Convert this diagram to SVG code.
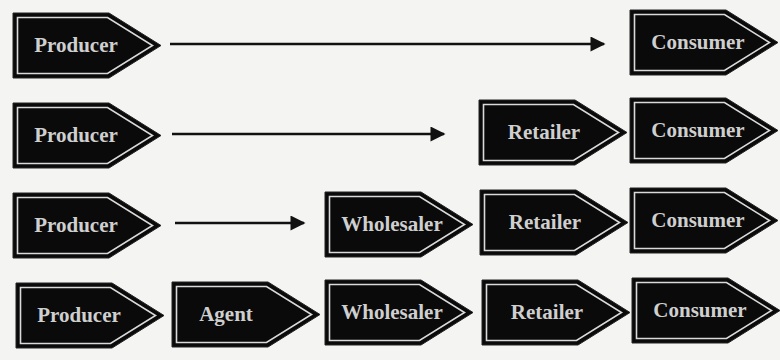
<svg xmlns="http://www.w3.org/2000/svg" width="780" height="360" viewBox="0 0 780 360">
<defs>
<style>
.lbl{font-family:"Liberation Serif","Times New Roman",serif;font-size:21px;font-weight:bold;fill:#cfcfcf;text-anchor:middle}
.con{stroke:#111;stroke-width:2.5;fill:none}
</style>
<g id="tag">
<polygon points="0,0 96,0 148,32.5 96,65 0,65" fill="#0a0a0a" stroke="#222" stroke-width="1"/>
<polygon points="4.5,4.5 94.5,4.5 139.5,32.5 94.5,60.5 4.5,60.5" fill="none" stroke="#dadada" stroke-width="1.6"/>
</g>
<marker id="ah" viewBox="0 0 10 10" refX="9" refY="5" markerWidth="8" markerHeight="6" markerUnits="strokeWidth" orient="auto">
<path d="M0,0 L10,5 L0,10 z" fill="#111"/>
</marker>
</defs>
<rect width="780" height="360" fill="#f4f4f2"/>
<g id="connectors">
<line class="con" x1="170" y1="44" x2="604" y2="44" marker-end="url(#ah)"/>
<line class="con" x1="172" y1="134" x2="444" y2="134" marker-end="url(#ah)"/>
<line class="con" x1="175" y1="223" x2="304" y2="223" marker-end="url(#ah)"/>
</g>
<g id="r1-producer"><use href="#tag" x="13" y="13"/><text class="lbl" x="76" y="52">Producer</text></g>
<g id="r1-consumer"><use href="#tag" x="630" y="10"/><text class="lbl" x="698" y="49">Consumer</text></g>
<g id="r2-producer"><use href="#tag" x="13" y="103"/><text class="lbl" x="76" y="142">Producer</text></g>
<g id="r2-retailer"><use href="#tag" x="479" y="100"/><text class="lbl" x="544" y="139">Retailer</text></g>
<g id="r2-consumer"><use href="#tag" x="630" y="98"/><text class="lbl" x="698" y="137">Consumer</text></g>
<g id="r3-producer"><use href="#tag" x="13" y="193"/><text class="lbl" x="76" y="232">Producer</text></g>
<g id="r3-wholesaler"><use href="#tag" x="325" y="192"/><text class="lbl" x="392" y="231">Wholesaler</text></g>
<g id="r3-retailer"><use href="#tag" x="480" y="190"/><text class="lbl" x="545" y="229">Retailer</text></g>
<g id="r3-consumer"><use href="#tag" x="630" y="188"/><text class="lbl" x="698" y="227">Consumer</text></g>
<g id="r4-producer"><use href="#tag" x="16" y="283"/><text class="lbl" x="79" y="322">Producer</text></g>
<g id="r4-agent"><use href="#tag" x="172" y="282"/><text class="lbl" x="226" y="321">Agent</text></g>
<g id="r4-wholesaler"><use href="#tag" x="325" y="280"/><text class="lbl" x="392" y="319">Wholesaler</text></g>
<g id="r4-retailer"><use href="#tag" x="482" y="280"/><text class="lbl" x="547" y="319">Retailer</text></g>
<g id="r4-consumer"><use href="#tag" x="632" y="278"/><text class="lbl" x="700" y="317">Consumer</text></g>
</svg>
